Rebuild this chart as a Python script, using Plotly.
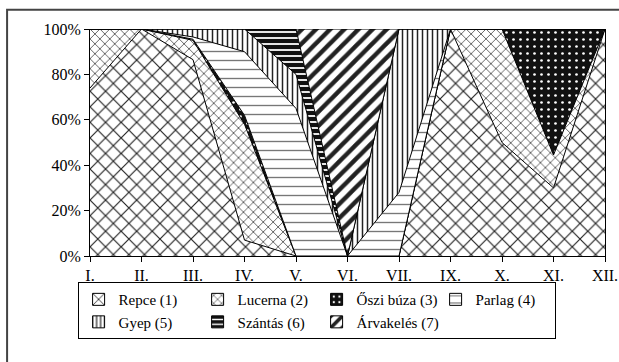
import plotly.graph_objects as go

# months (VIII. is missing in the source)
months = ["I.", "II.", "III.", "IV.", "V.", "VI.", "VII.", "IX.", "X.", "XI.", "XII."]

repce = [74, 100, 86.5, 7, 0, 0, 0, 100, 50, 30, 100]
lucerna = [26, 0, 8.5, 51, 0, 0, 0, 0, 50, 14.5, 0]
oszi_buza = [0, 0, 0.5, 4, 0, 0, 0, 0, 0, 55.5, 0]
parlag = [0, 0, 1, 28, 65, 0, 28, 0, 0, 0, 0]
gyep = [0, 0, 3.5, 10, 15, 0, 72, 0, 0, 0, 0]
szantas = [0, 0, 0, 0, 20, 0, 0, 0, 0, 0, 0]
arvakeles = [0, 0, 0, 0, 0, 100, 0, 0, 0, 0, 0]

series = [
    ("Repce (1)", repce, dict(shape="x", size=11, solidity=0.2, fgcolor="#222", bgcolor="white")),
    ("Lucerna (2)", lucerna, dict(shape="x", size=7, solidity=0.2, fgcolor="#333", bgcolor="white")),
    ("Őszi búza (3)", oszi_buza, dict(shape=".", size=7, solidity=0.12, fgcolor="white", bgcolor="#111")),
    ("Parlag (4)", parlag, dict(shape="-", size=9, solidity=0.15, fgcolor="#777", bgcolor="white")),
    ("Gyep (5)", gyep, dict(shape="|", size=5, solidity=0.3, fgcolor="#222", bgcolor="white")),
    ("Szántás (6)", szantas, dict(shape="-", size=6, solidity=0.3, fgcolor="white", bgcolor="#111")),
    ("Árvakelés (7)", arvakeles, dict(shape="/", size=10, solidity=0.45, fgcolor="#222", bgcolor="white")),
]

fig = go.Figure()
for name, vals, pat in series:
    fig.add_trace(go.Scatter(
        x=months, y=vals, name=name, mode="lines",
        stackgroup="one", groupnorm="percent", showlegend=False,
        line=dict(color="black", width=1),
        fillcolor="white", fillpattern=dict(fillmode="replace", **pat),
    ))

# square legend keys, like the original
for name, vals, pat in series:
    fig.add_trace(go.Bar(
        x=[None], y=[None], name=name, showlegend=True,
        marker=dict(color="white", line=dict(color="black", width=1),
                    pattern=dict(fillmode="replace", **pat)),
    ))

font = "Liberation Serif, Times New Roman, DejaVu Serif, serif"
fig.update_layout(
    width=619, height=362,
    margin=dict(l=90, r=14, t=29, b=106, autoexpand=False),
    paper_bgcolor="white", plot_bgcolor="white",
    font=dict(family=font, size=16, color="black"),
    legend=dict(
        orientation="h", x=0.44, y=-0.115, xanchor="center", yanchor="top",
        entrywidth=74, entrywidthmode="pixels", traceorder="normal",
        bordercolor="black", borderwidth=1, bgcolor="white",
        font=dict(family=font, size=15), itemwidth=30,
        itemclick=False,
    ),
    xaxis=dict(
        type="category", range=[0, len(months) - 1], showgrid=False,
        showline=True, linecolor="black", linewidth=1,
        ticks="outside", ticklen=5, tickcolor="black",
    ),
    yaxis=dict(
        range=[0, 100], dtick=20, ticksuffix="%", showgrid=False,
        showline=True, linecolor="black", linewidth=1, mirror=True,
        ticks="outside", ticklen=5, tickcolor="black", zeroline=False,
    ),
)

# outer chart frame
fig.add_shape(type="rect", xref="paper", yref="paper",
              x0=-0.161, x1=1.2, y0=-0.7, y1=1.085,
              line=dict(color="#444", width=2), layer="below")

# the page body has a default 8px margin; drop it so the chart sits at 0,0
fig.write_html("out.html", config={"displayModeBar": False},
               post_script="document.body.style.margin='0';")
